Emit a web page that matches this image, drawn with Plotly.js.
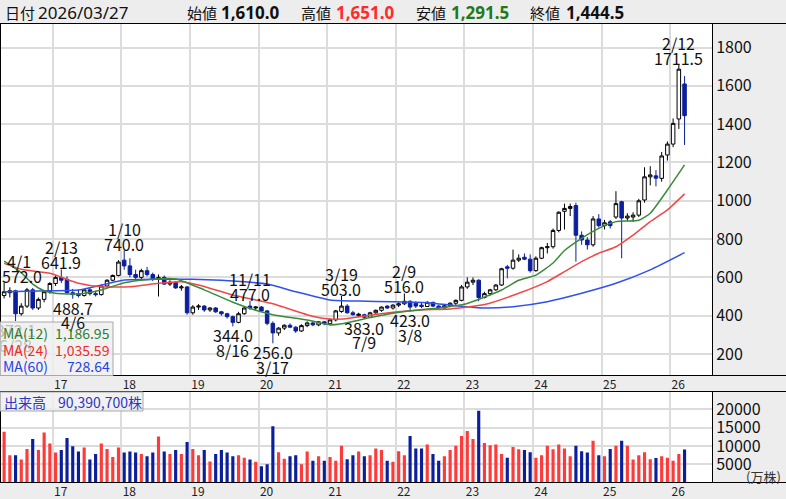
<!DOCTYPE html>
<html><head><meta charset="utf-8">
<script src="https://cdn.plot.ly/plotly-3.0.1.min.js"></script>
<style>html,body{margin:0;padding:0;background:#ededed;}#chart{width:786px;height:499px;}</style>
</head><body><div id="chart"></div>
<script>
// ---- monthly OHLC, April 2016 .. March 2026 ----
const open = [505,520,530,410,450,535,440,485,525,568, 600,590,520,515,505,535,515,510,555,585,
  610,690,660,615,600,635,615,590,600,565, 575,545,550,415,445,450,430,440,420,410,
  395,365,410,450,440,445,425,360,310,335, 350,340,320,348,362,352,368,358,378,422,
  450,415,400,405,392,415,428,450,440,455, 462,475,465,455,448,470,450,440,452,465,
  480,550,575,585,495,515,535,560,655,648, 690,705,695,635,700,755,760,845,945,960,
  975,820,795,770,905,870,890,915,995,910, 915,925,1004,1125,1130,1117,1239,1296,1427,1610];
const high = [572,548,535,465,545,545,495,530,575,610, 641.9,605,540,535,540,545,530,560,590,615,
  690,740,700,640,645,655,625,615,610,585, 580,560,555,455,460,455,445,445,425,415,
  400,420,450,477,450,450,430,370,340,355, 360,345,355,370,370,372,372,385,430,503,
  460,425,415,410,420,432,448,455,460,470, 516,480,475,470,475,472,455,458,470,485,
  560,600,600,590,525,540,565,650,665,745, 720,725,720,710,760,780,855,945,985,985,
  990,840,810,920,930,900,900,1050,1000,935, 940,1010,1175,1180,1160,1255,1310,1430,1711.5,1651];
const low = [490,495,372.1,400,440,430,430,470,515,555, 570,515,488.7,495,500,505,500,505,550,580,
  605,640,600,590,590,605,580,500,560,555, 540,530,405,405,430,420,420,415,400,385,
  344,360,405,430,430,420,350,256,295,325, 335,310,315,340,345,345,350,350,370,415,
  410,400,392,383,388,410,420,435,432,445, 455,423,440,440,445,445,435,438,445,455,
  475,540,560,475,490,505,530,555,595,640, 680,690,625,630,695,725,750,835,850,920,
  682,770,745,760,860,850,855,905,700,895, 890,915,990,1080,1075,1100,1210,1280,1375,1291.5];
const close = [525,530,410,450,535,440,485,525,568,600, 585,520,510,505,535,515,510,555,585,610,
  680,660,615,600,635,615,590,600,565,575, 545,550,415,445,450,430,440,420,410,395,
  365,410,440,440,445,425,360,310,335,350, 340,320,348,362,352,368,358,378,425,450,
  415,405,408,392,415,428,445,440,455,462, 475,445,450,448,470,450,440,452,465,480,
  550,575,585,495,515,535,560,645,648,690, 700,695,635,700,755,760,845,940,960,970,
  820,795,770,905,870,885,870,985,910,920, 925,1000,1125,1135,1118,1234,1296,1404,1687,1444.5];
// volume in 万株
const volume = [13900,7500,7500,6300,9200,11900,8900,13700,10700,8200, 8900,12200,9900,8500,9600,6300,7800,10700,9200,7000,
  9600,8200,8500,8200,7800,7200,8200,12600,8500,7800, 8900,7800,11100,9200,7500,8900,5800,7800,8900,8200,
  7200,7500,6800,6300,5700,4500,5000,15400,8300,6500, 7200,7500,5000,8500,6000,7200,6000,7000,6000,10100,
  6400,7500,8500,7200,7500,9300,8900,6000,5700,8600, 7500,12700,9300,9300,10400,7800,6000,7200,8900,10100,
  12700,14100,11900,19600,10800,10200,10400,7800,6800,9700, 9100,8900,8300,6800,7500,10100,9100,10400,9300,7200,
  10100,8600,8200,11400,7500,7200,9200,10100,11400,10100, 6300,7500,8300,6400,6700,7200,6800,6000,7800,9039];

// moving averages read at sample months (index into months)
const ma12X = [0,3,5,7,9,13,17,21,25,30,35,40,44,47,53,57,59,64,67,72,76,81,84,87,90,93,96,98,101,104,107,111,113,116,119];
const ma12Y = [685,625,565,530,517,513,534,572,588,592,535,470,428,405,377,352,358,390,408,428,440,464,497,534,585,612,675,740,804,856,891,898,935,1056,1187];
const ma24X = [0,3,8,13,17,22,27,31,34,40,44,47,53,56,59,63,68,73,78,84,90,95,98,101,104,107,110,113,116,119];
const ma24Y = [673,642,621,569,551,551,569,577,560,508,482,462,405,385,382,398,418,430,435,458,517,578,630,682,726,760,821,891,952,1036];
const ma60X = [0,8,13,17,21,27,33,38,42,46,51,57,62,68,74,79,84,89,95,101,107,113,119];
const ma60Y = [525,530,534,560,586,590,590,585,577,565,525,482,476,473,468,452,440,447,473,517,569,639,729];

const priceTicks = [200,400,600,800,1000,1200,1400,1600,1800];
const volTicks = [5000,10000,15000,20000];
const volTickText = ['5000','10000','15000','20000'];
const yearLabels = ['17','18','19','20','21','22','23','24','25','26'];

const highLabels = [[0,'4/1','572.0'],[10,'2/13','641.9'],[21,'1/10','740.0'],[43,'11/11','477.0'],[59,'3/19','503.0'],[70,'2/9','516.0'],[118,'2/12','1711.5']];
const lowLabels = [[2,'6/28','372.1'],[12,'4/6','488.7'],[40,'8/16','344.0'],[47,'3/17','256.0'],[63,'7/9','383.0'],[71,'3/8','423.0']];

// ---- build ----
const N = open.length;
const months = [];
for (let k = 0; k < N; k++) { const t = 3 + k; months.push((2016 + Math.floor(t/12)) + '/' + String(t%12+1).padStart(2,'0')); }
const xs = months.map((_, k) => k);
const yearTicks = yearLabels.map(y => months.indexOf('20' + y + '/01') - 0.5);
const UP = '#ff3a3a', DN = '#0b1f9c';
const volColors = close.map((c, k) => c >= open[k] ? UP : DN);

const W = 712, H = 499;
const px = v => v / W, py = v => (H - v) / H;
const F = '"Noto Sans CJK JP", "Noto Sans", sans-serif';
const FH = '"Noto Sans", "Noto Sans CJK JP", sans-serif';

const traces = [
  {type:'scatter', mode:'lines', x:ma60X, y:ma60Y, line:{color:'#3050f0', width:1.5, shape:'spline', smoothing:0.5}, hoverinfo:'skip', xaxis:'x', yaxis:'y'},
  {type:'scatter', mode:'lines', x:ma24X, y:ma24Y, line:{color:'#f04848', width:1.5, shape:'spline', smoothing:0.5}, hoverinfo:'skip', xaxis:'x', yaxis:'y'},
  {type:'scatter', mode:'lines', x:ma12X, y:ma12Y, line:{color:'#3a8a3a', width:1.5, shape:'spline', smoothing:0.5}, hoverinfo:'skip', xaxis:'x', yaxis:'y'},
  {type:'candlestick', x:xs, open:open, high:high, low:low, close:close, whiskerwidth:0,
   increasing:{line:{color:'#000000', width:1}, fillcolor:'#ffffff'},
   decreasing:{line:{color:DN, width:1}, fillcolor:DN}, xaxis:'x', yaxis:'y', hoverinfo:'skip'},
  {type:'bar', x:xs, y:volume, marker:{color:volColors, line:{width:0}}, xaxis:'x2', yaxis:'y2', hoverinfo:'skip'}
];

const ann = [];
const txt = (x, y, t, o) => ann.push(Object.assign({xref:'paper', yref:'paper', x:px(x), y:py(y), text:t, showarrow:false, xanchor:'left', yanchor:'middle', font:{family:FH, size:17, color:'#111'}}, o || {}));
const KJ = {font:{family:F, size:15, color:'#111'}};
// header
txt(3, 12.5, '日付', KJ); txt(36, 12.5, '2026/03/27');
txt(185, 12.5, '始値', KJ); txt(219, 12.5, '<b>1,610.0</b>');
txt(299, 12.5, '高値', KJ); txt(334, 12.5, '<b>1,651.0</b>', {font:{family:FH, size:17, color:'#ff2a2a'}});
txt(414, 12.5, '安値', KJ); txt(449, 12.5, '<b>1,291.5</b>', {font:{family:FH, size:17, color:'#1e7a1e'}});
txt(528, 12.5, '終値', KJ); txt(564, 12.5, '<b>1,444.5</b>');

// high / low labels on the price chart
highLabels.forEach(([i, d, v]) => {
  const first = i === 0;
  ann.push({xref:'x', yref:'y', x:i, y:high[i], text:v, showarrow:false, xanchor:first?'left':'center', xshift:first?-4:0, yanchor:'middle', yshift:7, font:{family:F, size:16, color:'#111'}});
  ann.push({xref:'x', yref:'y', x:i, y:high[i], text:d, showarrow:false, xanchor:first?'left':'center', xshift:first?1:0, yanchor:'middle', yshift:22, font:{family:F, size:16, color:'#111'}});
});
lowLabels.forEach(([i, d, v]) => {
  const hidden = i < 5;
  const c = hidden ? '#bdbdbd' : '#111';
  ann.push({xref:'x', yref:'y', x:i, y:low[i], text:v, showarrow:false, xanchor:'center', yanchor:'middle', yshift:-9, font:{family:F, size:16, color:c}});
  ann.push({xref:'x', yref:'y', x:i, y:low[i], text:d, showarrow:false, xanchor:'center', yanchor:'middle', yshift:-23.5, font:{family:F, size:16, color:c}});
});

// MA legend
const maRows = [['MA(12)', '1,186.95', '#2f7d2f', 333], ['MA(24)', '1,035.59', '#ee2a2a', 349.5], ['MA(60)', '728.64', '#2442e6', 366]];
maRows.forEach(([n, v, c, y]) => {
  txt(1, y, n, {font:{family:F, size:14, color:c}});
  txt(112, y, v, {xanchor:'right', font:{family:F, size:14, color:c}});
});
// volume legend
txt(2, 402, '出来高', {font:{family:F, size:14, color:'#2f35c0'}});
txt(56, 402, '90,390,700株', {font:{family:F, size:14, color:'#2f35c0'}});
txt(783, 476, '(万株)', {xanchor:'right', font:{family:F, size:13, color:'#333'}});

const hl = (y) => ({type:'line', xref:'paper', yref:'paper', x0:0, x1:786/W, y0:py(y), y1:py(y), line:{color:'#000', width:1}, layer:'above'});
const shapes = [
  hl(23.5), hl(375.5), hl(391.5), hl(482.5),
  {type:'line', xref:'paper', yref:'paper', x0:0, x1:0, y0:py(376), y1:py(24), line:{color:'#000', width:2}, layer:'above'},
  {type:'line', xref:'paper', yref:'paper', x0:0, x1:0, y0:py(483), y1:py(392), line:{color:'#000', width:2}, layer:'above'},
  {type:'rect', xref:'paper', yref:'paper', x0:0, x1:px(113), y0:py(375.5), y1:py(322), fillcolor:'rgba(238,238,238,0.85)', line:{color:'#a8a8a8', width:1}, layer:'above'},
  {type:'rect', xref:'paper', yref:'paper', x0:0, x1:px(143), y0:py(411), y1:py(392), fillcolor:'rgba(238,238,238,0.85)', line:{color:'#a8a8a8', width:1}, layer:'above'}
];

const xBase = {range:[-0.72, 123.8], tickmode:'array', tickvals:yearTicks, ticktext:yearLabels, showgrid:true, gridcolor:'#dcdcdc', gridwidth:2,
  zeroline:false, showline:false, ticks:'', ticklabelshift:8, tickfont:{family:F, size:12, color:'#222'}, fixedrange:true};
const layout = {
  width:786, height:499, margin:{l:0, r:74, t:0, b:0},
  paper_bgcolor:'#ededed', plot_bgcolor:'#ffffff', showlegend:false,
  bargap:0.45, boxgap:0.12,
  xaxis:Object.assign({}, xBase, {domain:[0,1], anchor:'y', rangeslider:{visible:false}}),
  yaxis:{domain:[py(376), py(24)], range:[85, 1923], side:'right', tickmode:'array', tickvals:priceTicks, ticks:'',
    showgrid:true, gridcolor:'#dcdcdc', gridwidth:2, zeroline:false, showline:true, linecolor:'#000', linewidth:1,
    tickfont:{family:F, size:16, color:'#111'}, fixedrange:true},
  xaxis2:Object.assign({}, xBase, {domain:[0,1], anchor:'y2'}),
  yaxis2:{domain:[py(482.7), py(392)], range:[0, 24714], side:'right', tickmode:'array', tickvals:volTicks, ticktext:volTickText, ticks:'',
    showgrid:true, gridcolor:'#dcdcdc', gridwidth:2, zeroline:false, showline:true, linecolor:'#000', linewidth:1,
    tickfont:{family:F, size:16, color:'#111'}, fixedrange:true},
  annotations:ann, shapes:shapes
};
Plotly.newPlot('chart', traces, layout, {staticPlot:true, displayModeBar:false});
</script></body></html>
